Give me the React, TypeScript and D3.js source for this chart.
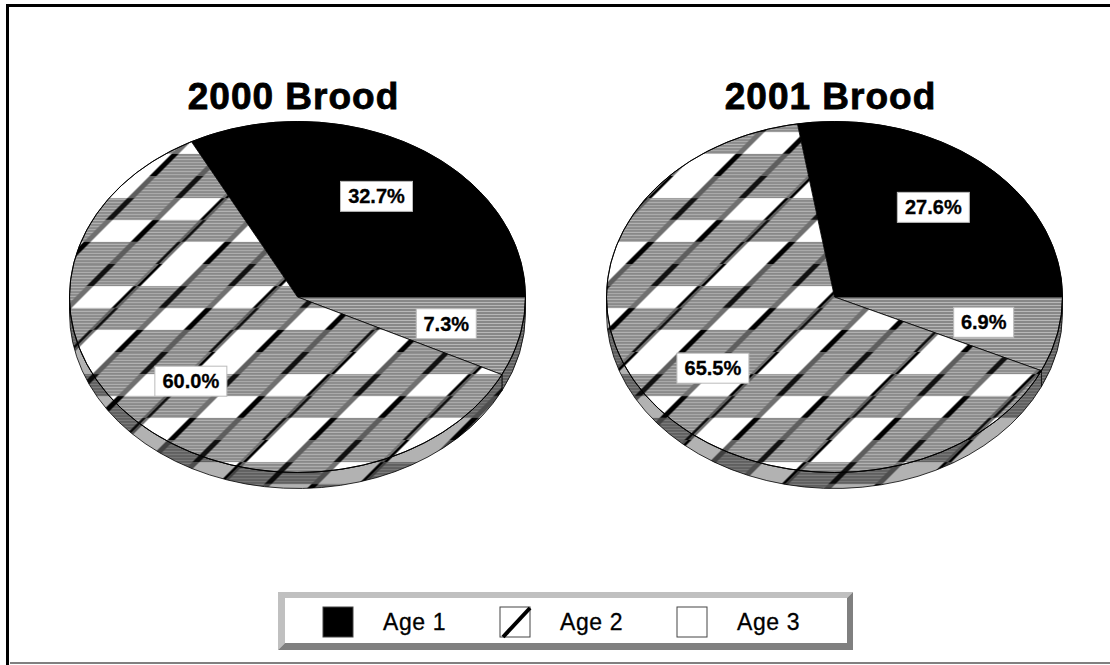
import React from "react";
import * as d3 from "d3";

// values (percent)
const broods = ["2000 Brood", "2001 Brood"];
const ages = ["Age 1", "Age 2", "Age 3"];
const age1 = [32.7, 27.6];
const age2 = [60.0, 65.5];
const age3 = [7.3, 6.9];

const W = 1110,
  H = 665;
const centers = [297.5, 834.5];
const cy = 297;
const rx = 228,
  ry = 175.5,
  depth = 16;
const labelR = 0.67;

const font = "Arial, 'Liberation Sans', Helvetica, sans-serif";

function pt(cx: number, a: number, f = 1, dy = 0): [number, number] {
  return [cx + rx * f * Math.sin(a), cy - ry * f * Math.cos(a) + dy];
}

function topPath(cx: number, a0: number, a1: number) {
  const [x0, y0] = pt(cx, a0);
  const [x1, y1] = pt(cx, a1);
  const large = a1 - a0 > Math.PI ? 1 : 0;
  return `M${cx},${cy}L${x0},${y0}A${rx},${ry} 0 ${large} 1 ${x1},${y1}Z`;
}

function wallPath(cx: number, a0: number, a1: number) {
  const b0 = Math.max(a0, Math.PI / 2);
  const b1 = Math.min(a1, (3 * Math.PI) / 2);
  if (b1 - b0 < 1e-6) return null;
  const [x0, y0] = pt(cx, b0);
  const [x1, y1] = pt(cx, b1);
  return `M${x0},${y0}A${rx},${ry} 0 0 1 ${x1},${y1}L${x1},${y1 + depth}A${rx},${ry} 0 0 0 ${x0},${y0 + depth}Z`;
}

const fills: Record<string, string> = {
  "Age 1": "#000",
  "Age 2": "url(#hatch)",
  "Age 3": "url(#stripes)",
};

// white / grey cells of the age 2 hatch (3 columns x 4 rows)
const whiteCells = [
  [0, 0],
  [2, 1],
  [1, 2],
  [0, 3],
];
const lineShades = ["#000", "#5e5e5e", "#111", "#707070"];

function Pie({ i }: { i: number }) {
  const cx = centers[i];
  const order = [
    { age: "Age 1", v: age1[i] },
    { age: "Age 3", v: age3[i] },
    { age: "Age 2", v: age2[i] },
  ];
  const start = Math.PI / 2 - (2 * Math.PI * age1[i]) / 100;
  const arcs = d3
    .pie<{ age: string; v: number }>()
    .sort(null)
    .value((d) => d.v)
    .startAngle(start)
    .endAngle(start + 2 * Math.PI)(order);

  return (
    <g>
      {arcs.map((a, k) => {
        const p = wallPath(cx, a.startAngle, a.endAngle);
        if (!p) return null;
        return (
          <g key={"w" + k}>
            <path d={p} fill={fills[a.data.age]} />
            <path d={p} fill="rgba(0,0,0,0.3)" stroke="#000" strokeWidth={0.8} />
          </g>
        );
      })}
      {arcs.map((a, k) => (
        <path
          key={"t" + k}
          d={topPath(cx, a.startAngle, a.endAngle)}
          fill={fills[a.data.age]}
          stroke="#000"
          strokeWidth={0.8}
        />
      ))}
      <ellipse cx={cx} cy={cy} rx={rx} ry={ry} fill="none" stroke="#000" strokeWidth={1} />
      {arcs.map((a, k) => {
        const mid = (a.startAngle + a.endAngle) / 2;
        const [lx, ly] = pt(cx, mid, labelR);
        const txt = d3.format(".1f")(a.data.v) + "%";
        const bw = txt.length * 12 + 12;
        return (
          <g key={"l" + k}>
            <rect
              x={lx - bw / 2}
              y={ly - 15}
              width={bw}
              height={30}
              fill="#fff"
              stroke="#bbb"
              strokeWidth={1}
            />
            <text
              x={lx}
              y={ly + 7}
              textAnchor="middle"
              fontFamily={font}
              fontWeight="bold"
              fontSize={20}
              stroke="#000"
              strokeWidth={0.3}
              fill="#000"
            >
              {txt}
            </text>
          </g>
        );
      })}
      <text
        x={cx - 4}
        y={109}
        textAnchor="middle"
        fontFamily={font}
        fontWeight="bold"
        fontSize={37}
        letterSpacing={1}
        stroke="#000"
        strokeWidth={0.8}
        fill="#000"
      >
        {broods[i]}
      </text>
    </g>
  );
}

export default function App() {
  const cellW = 47,
    cellH = 22;
  const legendX = [323, 500, 677];

  return (
    <svg
      width={W}
      height={H}
      style={{ position: "absolute", left: 0, top: 0, background: "#fff" }}
    >
      <defs>
        <pattern id="stripes" patternUnits="userSpaceOnUse" width={6} height={3}>
          <rect width={6} height={3} fill="#888" />
          <rect y={2} width={6} height={1} fill="#b8b8b8" />
        </pattern>
        <pattern
          id="hatch"
          patternUnits="userSpaceOnUse"
          width={cellW * 3}
          height={cellH * 4}
          patternTransform="skewX(-45)"
        >
          <rect width={cellW * 3} height={cellH * 4} fill="url(#stripes)" />
          {whiteCells.map(([c, r], k) => (
            <rect key={k} x={c * cellW} y={r * cellH} width={cellW} height={cellH} fill="#fff" />
          ))}
          {d3.range(4).map((r) =>
            d3.range(4).map((c) => (
              <rect
                key={r + "-" + c}
                x={c * cellW - 3.5}
                y={r * cellH}
                width={7}
                height={cellH}
                fill={lineShades[(r + c) % 4]}
              />
            ))
          )}
        </pattern>
      </defs>

      {/* frame */}
      <rect x={6} y={4} width={W - 6} height={3} fill="#000" />
      <rect x={6} y={4} width={3} height={H - 4} fill="#000" />
      <rect x={10} y={662} width={W - 10} height={2} fill="#808080" />

      {broods.map((b, i) => (
        <Pie key={b} i={i} />
      ))}

      {/* legend */}
      <g>
        <polygon points="278,592 853,592 847,598 285,598 285,643 278,650" fill="#c0c0c0" />
        <polygon points="853,592 853,650 278,650 285,643 847,643 847,598" fill="#808080" />
        <rect x={285} y={598} width={562} height={45} fill="#fff" />
        {ages.map((a, k) => (
          <g key={a}>
            <rect
              x={legendX[k]}
              y={607}
              width={30}
              height={30}
              fill={k === 0 ? "#000" : "#fff"}
              stroke="#444"
              strokeWidth={1}
            />
            {k === 1 && (
              <line
                x1={legendX[k] + 3}
                y1={637}
                x2={legendX[k] + 30}
                y2={608}
                stroke="#000"
                strokeWidth={4}
              />
            )}
            <text
              x={legendX[k] + 60}
              y={630}
              fontFamily={font}
              fontSize={23}
              letterSpacing={0.6}
              stroke="#000"
              strokeWidth={0.3}
              fill="#000"
            >
              {a}
            </text>
          </g>
        ))}
      </g>
    </svg>
  );
}
